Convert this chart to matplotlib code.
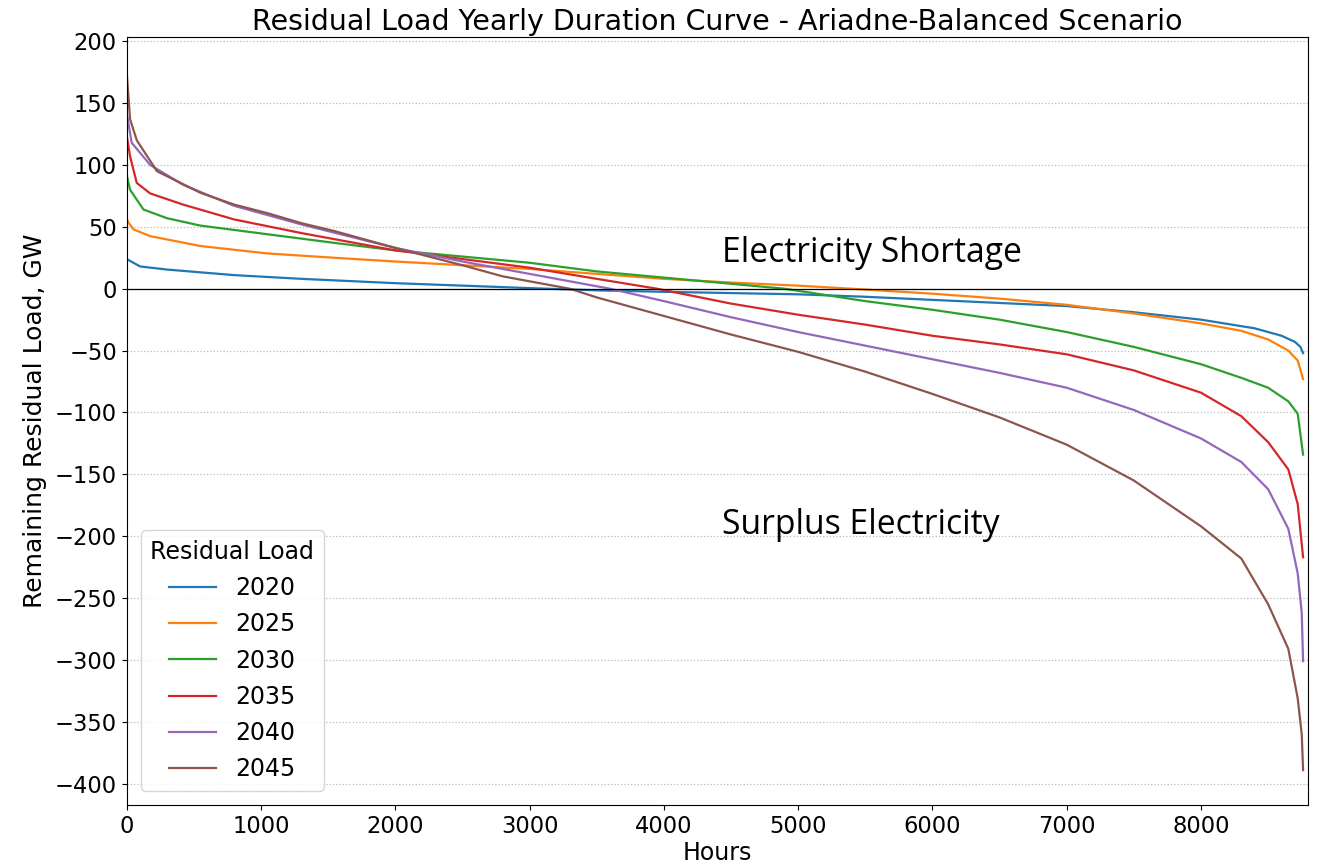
import matplotlib.pyplot as plt
from matplotlib.ticker import MultipleLocator

# residual load duration curves, hours sorted by load (GW)
hours_2020 = [0, 100, 300, 800, 1300, 2000, 2500, 3000, 3500, 4000, 4500, 5000, 5500, 6000, 6500, 7000, 7500, 8000, 8400, 8600, 8700, 8740, 8760]
load_2020 = [24, 18, 15.5, 11, 8, 4.5, 2.5, 0.5, -1.3, -2.5, -3.5, -4.5, -6.5, -9, -11.5, -14, -19, -25, -32, -38, -43, -47, -52]

hours_2025 = [0, 10, 50, 175, 550, 1050, 1550, 2000, 2500, 3000, 3500, 4000, 4500, 5000, 5400, 6000, 6500, 7000, 7500, 8000, 8300, 8500, 8650, 8720, 8760]
load_2025 = [57, 54, 48, 42.5, 34.5, 28.5, 25, 22, 19, 16, 12, 8, 5, 2.5, 0, -4, -8, -13, -20, -28, -34, -41, -50, -58, -73]

hours_2030 = [0, 25, 125, 300, 550, 1050, 1550, 2000, 2500, 3000, 3500, 4000, 4500, 4900, 5500, 6000, 6500, 7000, 7500, 8000, 8300, 8500, 8650, 8720, 8760]
load_2030 = [92, 80, 64, 57, 51, 44, 37, 31, 26, 21, 14, 9, 4, 0, -10, -17, -25, -35, -47, -61, -72, -80, -91, -101, -134]

hours_2035 = [0, 25, 75, 175, 420, 800, 1300, 2000, 2500, 3000, 3500, 3950, 4500, 5000, 5500, 6000, 6500, 7000, 7500, 8000, 8300, 8500, 8650, 8720, 8760]
load_2035 = [124, 107, 85.5, 77, 68, 56, 45, 31, 24, 17, 8, 0, -12, -21, -29, -38, -45, -53, -66, -84, -103, -124, -146, -174, -217]

hours_2040 = [0, 37, 175, 420, 800, 1300, 2000, 2500, 3000, 3600, 4000, 4500, 5000, 5500, 6000, 6500, 7000, 7500, 8000, 8300, 8500, 8650, 8720, 8750, 8760]
load_2040 = [142, 118, 100, 84, 67, 52, 33, 22, 12, 0, -10, -23, -35, -46, -57, -68, -80, -98, -121, -140, -162, -194, -230, -262, -301]

hours_2045 = [0, 25, 75, 225, 550, 800, 1050, 1300, 1550, 2000, 2500, 2800, 3300, 3500, 4000, 4500, 5000, 5500, 6000, 6500, 7000, 7500, 8000, 8300, 8500, 8650, 8720, 8750, 8760]
load_2045 = [175, 137, 120, 95, 77.5, 68, 61, 53, 46.5, 33, 19, 10, 0, -7, -22, -37, -51, -67, -85, -104, -126, -155, -192, -218, -255, -291, -331, -360, -389]

years = ['2020', '2025', '2030', '2035', '2040', '2045']
series = [(hours_2020, load_2020), (hours_2025, load_2025), (hours_2030, load_2030),
          (hours_2035, load_2035), (hours_2040, load_2040), (hours_2045, load_2045)]

fig, ax = plt.subplots(figsize=(13.17, 8.67), dpi=100)
fig.subplots_adjust(left=0.0962, right=0.993, top=0.957, bottom=0.0715)

for year, (h, load) in zip(years, series):
    ax.plot(h, load, lw=1.6, label=year)

ax.axhline(0, color='black', lw=0.9)
ax.yaxis.grid(True, linestyle=':', color='#bbbbbb', lw=0.9)
ax.set_axisbelow(True)
ax.set_xlim(0, 8795)
ax.yaxis.set_major_locator(MultipleLocator(50))

ax.set_title('Residual Load Yearly Duration Curve - Ariadne-Balanced Scenario', fontsize=20.5, pad=5)
ax.set_xlabel('Hours', fontsize=17, labelpad=2)
ax.set_ylabel('Remaining Residual Load, GW', fontsize=18, labelpad=6)
ax.tick_params(labelsize=16.3)

ax.text(4430, 22, 'Electricity Shortage', fontsize=24.3, family='Open Sans', va='baseline')
ax.text(4430, -198, 'Surplus Electricity', fontsize=24.3, family='Open Sans', va='baseline')

ax.legend(title='Residual Load', loc='lower left', fontsize=17, title_fontsize=17,
          labelspacing=0.52, borderaxespad=0.6)

fig.savefig('out.png', dpi=100)
